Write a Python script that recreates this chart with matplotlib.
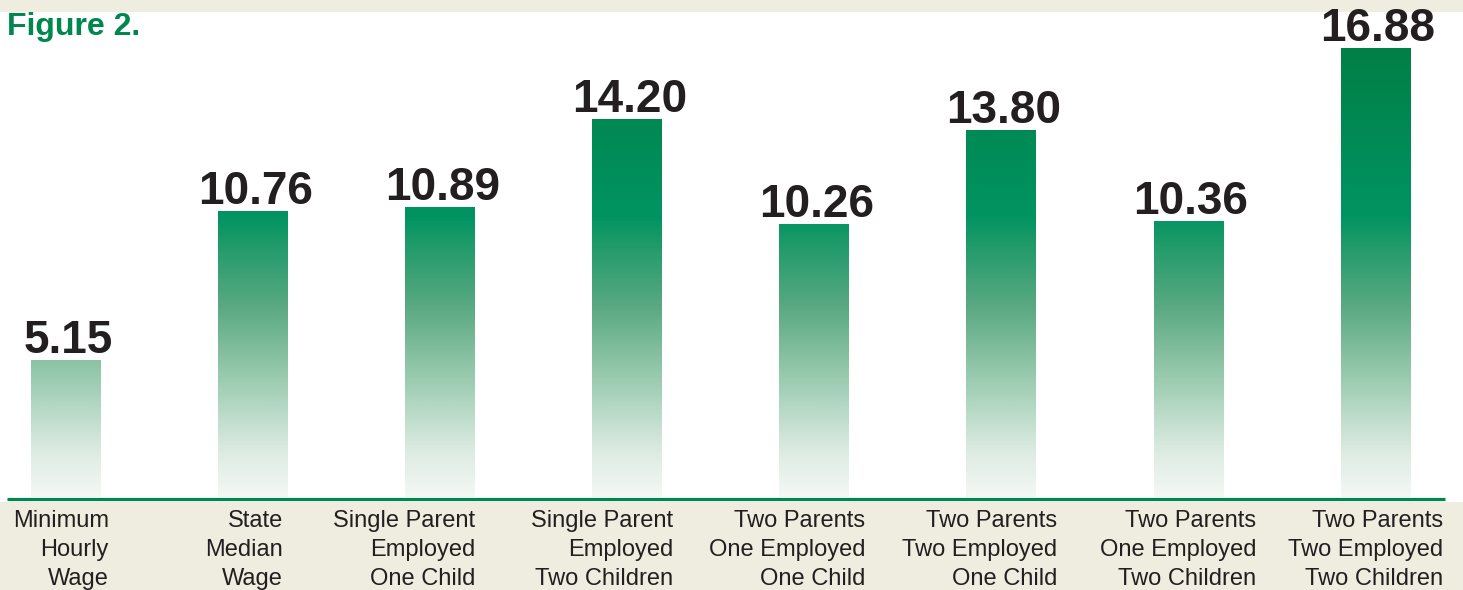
import numpy as np
import matplotlib
matplotlib.use("Agg")
import matplotlib.pyplot as plt
from matplotlib.colors import LinearSegmentedColormap
from matplotlib.patches import Rectangle

plt.rcParams['font.family'] = ['Liberation Sans', 'DejaVu Sans']

# ---- data ----
categories = [
    "Minimum\nHourly\nWage",
    "State\nMedian\nWage",
    "Single Parent\nEmployed\nOne Child",
    "Single Parent\nEmployed\nTwo Children",
    "Two Parents\nOne Employed\nOne Child",
    "Two Parents\nTwo Employed\nOne Child",
    "Two Parents\nOne Employed\nTwo Children",
    "Two Parents\nTwo Employed\nTwo Children",
]
values = [5.15, 10.76, 10.89, 14.20, 10.26, 13.80, 10.36, 16.88]
value_labels = ["5.15", "10.76", "10.89", "14.20", "10.26", "13.80", "10.36", "16.88"]
title = "Figure 2."

# ---- style / layout ----
W, H = 1463, 590
BEIGE = "#efece0"
GREEN = "#00874e"
TEXT = "#231f20"
label_shift_px = [43, 30, 35, 46, 51, 56, 68, 67]

fig = plt.figure(figsize=(W / 100, H / 100), dpi=100, facecolor=BEIGE)

# white panel (background axes)
bg = fig.add_axes([0, 0, 1, 1], zorder=0)
bg.set_xlim(0, W)
bg.set_ylim(H, 0)
bg.axis("off")
bg.add_patch(Rectangle((0, 12), W, 502 - 12, facecolor="white", edgecolor="none"))
bg.plot([7, 1445], [499, 499], color=GREEN, lw=2.3, solid_capstyle="butt")

base_px, top_px = 497, 12
ax = fig.add_axes([0, (H - base_px) / H, 1, (base_px - top_px) / H], zorder=2)
ax.set_facecolor("none")
step = 187.1
x0 = 66
ymax = (base_px - top_px) / 26.6
ax.axis("off")

cmap = LinearSegmentedColormap.from_list("g", [
    (0.00, "#f4f8f5"),
    (0.10, "#dcebe2"),
    (0.28, "#93c7aa"),
    (0.42, "#5aa983"),
    (0.56, "#1f9a69"),
    (0.62, "#009462"),
    (0.80, "#008a55"),
    (1.00, "#007f45"),
])
grad = np.linspace(0, 1, 400).reshape(-1, 1)
xs = np.arange(len(values))
bars = ax.bar(xs, values, width=70 / step, color="none", edgecolor="none")
for b in bars:
    im = ax.imshow(grad, cmap=cmap, origin="lower", aspect="auto",
                   extent=[-1, len(values), 0, 17.0], interpolation="bilinear",
                   zorder=1)
    im.set_clip_path(b)
ax.set_xlim(-x0 / step, (W - x0) / step)
ax.set_ylim(0, ymax)

for i, (v, lab) in enumerate(zip(values, value_labels)):
    ax.annotate(lab, xy=(i, v), xytext=(1.5, 5), textcoords="offset points",
                ha="center", va="baseline", fontsize=33, fontweight="bold",
                color=TEXT, annotation_clip=False)

for i, cat in enumerate(categories):
    ax.annotate(cat, xy=(i, 0), xytext=(label_shift_px[i] * 0.72, -53 * 0.72),
                textcoords="offset points", ha="right", va="center",
                multialignment="right", fontsize=17, color=TEXT,
                linespacing=1.42, annotation_clip=False)

# title
fig.text(7 / W, (H - 35) / H, title, ha="left", va="baseline",
         fontsize=23, fontweight="bold", color=GREEN, zorder=5)

fig.savefig("out.png", dpi=100, facecolor=BEIGE)
